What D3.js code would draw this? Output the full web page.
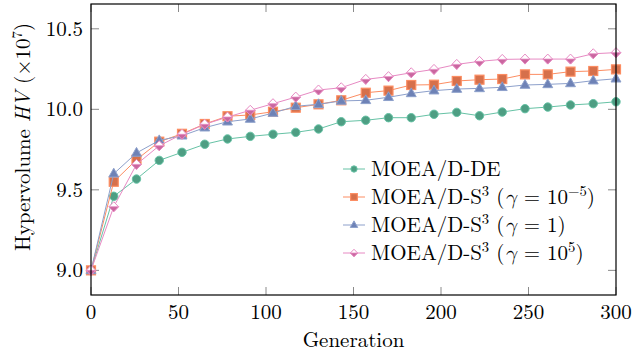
<!DOCTYPE html>
<html>
<head>
<meta charset="utf-8">
<script src="https://cdn.jsdelivr.net/npm/d3@7"></script>
<style>
  body { margin: 0; background: #fff; }
  svg { display: block; }
</style>
</head>
<body>
<div id="chart"></div>
<script>
// generations sampled
const generations = [0, 13, 26, 39, 52, 65, 78, 91, 104, 117, 130, 143, 157, 170, 183, 196, 209, 222, 235, 248, 261, 274, 287, 300];

const hvDE = [9.0, 9.46, 9.567, 9.683, 9.733, 9.783, 9.816, 9.832, 9.845, 9.857, 9.878, 9.923,
  9.932, 9.948, 9.948, 9.969, 9.981, 9.960, 9.983, 10.004, 10.014, 10.027, 10.035, 10.047];
const hvS3Small = [9.0, 9.55, 9.687, 9.799, 9.848, 9.909, 9.957, 9.965, 9.985, 10.010, 10.031, 10.056,
  10.103, 10.116, 10.151, 10.153, 10.176, 10.184, 10.188, 10.217, 10.217, 10.234, 10.238, 10.248];
const hvS3One = [9.0, 9.60, 9.729, 9.807, 9.836, 9.886, 9.923, 9.940, 9.977, 10.019, 10.031, 10.052,
  10.056, 10.075, 10.099, 10.116, 10.126, 10.130, 10.137, 10.151, 10.155, 10.161, 10.178, 10.190];
const hvS3Large = [9.0, 9.395, 9.658, 9.774, 9.845, 9.907, 9.952, 9.994, 10.035, 10.076, 10.12, 10.134,
  10.186, 10.203, 10.227, 10.248, 10.279, 10.298, 10.31, 10.312, 10.312, 10.312, 10.345, 10.352];

const xTicks = [0, 50, 100, 150, 200, 250, 300];
const yTicks = [9.0, 9.5, 10.0, 10.5];

const series = [
  { values: hvDE, line: '#66c2a5', fill: '#4e9e83', marker: 'circle', label: ['MOEA/D-DE'] },
  { values: hvS3Small, line: '#fc8d62', fill: '#d6704b', marker: 'square', label: ['MOEA/D-S', '3', ' (', 'γ', ' = 10', '−5', ')'] },
  { values: hvS3One, line: '#8da0cb', fill: '#6e82b6', marker: 'triangle', label: ['MOEA/D-S', '3', ' (', 'γ', ' = 1', '', ')'] },
  { values: hvS3Large, line: '#e78ac3', fill: '#c9679f', marker: 'halfdiamond', label: ['MOEA/D-S', '3', ' (', 'γ', ' = 10', '5', ')'] }
];

const width = 632, height = 352;
const plotLeft = 91, plotRight = 616, plotTop = 4, plotBottom = 295;
const font = "'LM Roman 10', 'Latin Modern Roman'";
const greek = "'Latin Modern Math', 'DejaVu Serif'";
const fs = 21, fsSup = 14.7;

const svg = d3.select('#chart').append('svg')
  .attr('width', width).attr('height', height);

const x = d3.scaleLinear().domain([0, 300]).range([plotLeft, plotRight]);
const y = d3.scaleLinear().domain([8.847, 10.654]).range([plotBottom, plotTop]);

// ticks (inside, mirrored)
const tickLen = 8;
const ticks = svg.append('g').attr('stroke', '#8a8a8a').attr('stroke-width', 1);
xTicks.forEach(t => {
  ticks.append('line').attr('x1', x(t)).attr('x2', x(t)).attr('y1', plotBottom).attr('y2', plotBottom - tickLen);
  ticks.append('line').attr('x1', x(t)).attr('x2', x(t)).attr('y1', plotTop).attr('y2', plotTop + tickLen);
});
yTicks.forEach(t => {
  ticks.append('line').attr('x1', plotLeft).attr('x2', plotLeft + tickLen).attr('y1', y(t)).attr('y2', y(t));
  ticks.append('line').attr('x1', plotRight).attr('x2', plotRight - tickLen).attr('y1', y(t)).attr('y2', y(t));
});

// tick labels
svg.append('g').selectAll('text').data(xTicks).join('text')
  .attr('font-family', font)
  .attr('x', d => x(d)).attr('y', 319)
  .attr('text-anchor', 'middle').attr('font-size', fs)
  .text(d => d);
svg.append('g').selectAll('text').data(yTicks).join('text')
  .attr('font-family', font)
  .attr('x', plotLeft - 8).attr('y', d => y(d) + 7)
  .attr('text-anchor', 'end').attr('font-size', fs)
  .text(d => d.toFixed(1));

// axis titles
svg.append('text').attr('font-family', font)
  .attr('x', (plotLeft + plotRight) / 2).attr('y', 347)
  .attr('text-anchor', 'middle').attr('font-size', fs).text('Generation');

const yl = svg.append('text').attr('font-family', font)
  .attr('transform', 'translate(30,137) rotate(-90)')
  .attr('text-anchor', 'middle').attr('font-size', fs);
yl.append('tspan').text('Hypervolume ');
yl.append('tspan').attr('font-style', 'italic').text('HV');
yl.append('tspan').text(' (×10');
yl.append('tspan').attr('font-size', fsSup).attr('dy', -8).text('7');
yl.append('tspan').attr('dy', 8).text(')');

// markers
function drawMarker(g, type, cx, cy, s, scale) {
  const k = scale || 1;
  if (type === 'circle') {
    g.append('circle').attr('cx', cx).attr('cy', cy).attr('r', 4.2 * k)
      .attr('fill', s.fill).attr('stroke', s.line).attr('stroke-width', 1);
  } else if (type === 'square') {
    const h = 4.5 * k;
    g.append('rect').attr('x', cx - h).attr('y', cy - h).attr('width', 2 * h).attr('height', 2 * h)
      .attr('fill', s.fill).attr('stroke', s.line).attr('stroke-width', 1.2);
  } else if (type === 'triangle') {
    const r = 5.5 * k;
    g.append('path')
      .attr('d', `M${cx},${cy - r}L${cx + r * 0.9},${cy + r * 0.6}L${cx - r * 0.9},${cy + r * 0.6}Z`)
      .attr('fill', s.fill).attr('stroke', s.line).attr('stroke-width', 1);
  } else if (type === 'halfdiamond') {
    const w = 4.8 * k, h = 5 * k;
    g.append('path')
      .attr('d', `M${cx},${cy - h}L${cx + w},${cy}L${cx},${cy + h}L${cx - w},${cy}Z`)
      .attr('fill', '#fff').attr('stroke', s.line).attr('stroke-width', 1);
    g.append('path')
      .attr('d', `M${cx - w},${cy}L${cx + w},${cy}L${cx},${cy + h}Z`)
      .attr('fill', s.fill).attr('stroke', s.line).attr('stroke-width', 0.8);
  }
}

const line = d3.line().x((d, i) => x(generations[i])).y(d => y(d));

series.forEach(s => {
  const g = svg.append('g');
  g.append('path').datum(s.values).attr('d', line)
    .attr('fill', 'none').attr('stroke', s.line).attr('stroke-width', 1);
  s.values.forEach((v, i) => drawMarker(g, s.marker, x(generations[i]), y(v), s));
});

// frame
svg.append('rect').attr('x', plotLeft).attr('y', plotTop)
  .attr('width', plotRight - plotLeft).attr('height', plotBottom - plotTop)
  .attr('fill', 'none').attr('stroke', '#000').attr('stroke-width', 1.2);

// legend
const legendRows = [169, 197, 225, 253];
series.forEach((s, i) => {
  const g = svg.append('g');
  const cy = legendRows[i];
  g.append('line').attr('x1', 343).attr('x2', 365).attr('y1', cy).attr('y2', cy)
    .attr('stroke', s.line).attr('stroke-width', 1);
  drawMarker(g, s.marker, 354, cy, s, 0.75);
  const t = g.append('text').attr('font-family', font)
    .attr('x', 371).attr('y', cy + 7).attr('font-size', fs);
  const p = s.label;
  t.append('tspan').text(p[0]);
  if (p.length > 1) {
    t.append('tspan').attr('font-size', fsSup).attr('dy', -8).text(p[1]);
    t.append('tspan').attr('dy', 8).text(p[2]);
    t.append('tspan').attr('font-family', greek).attr('font-style', 'italic').text(p[3]);
    t.append('tspan').text(p[4]);
    if (p[5]) {
      t.append('tspan').attr('font-size', fsSup).attr('dy', -8).text(p[5]);
      t.append('tspan').attr('dy', 8).text(p[6]);
    } else {
      t.append('tspan').text(p[6]);
    }
  }
});
</script>
</body>
</html>
